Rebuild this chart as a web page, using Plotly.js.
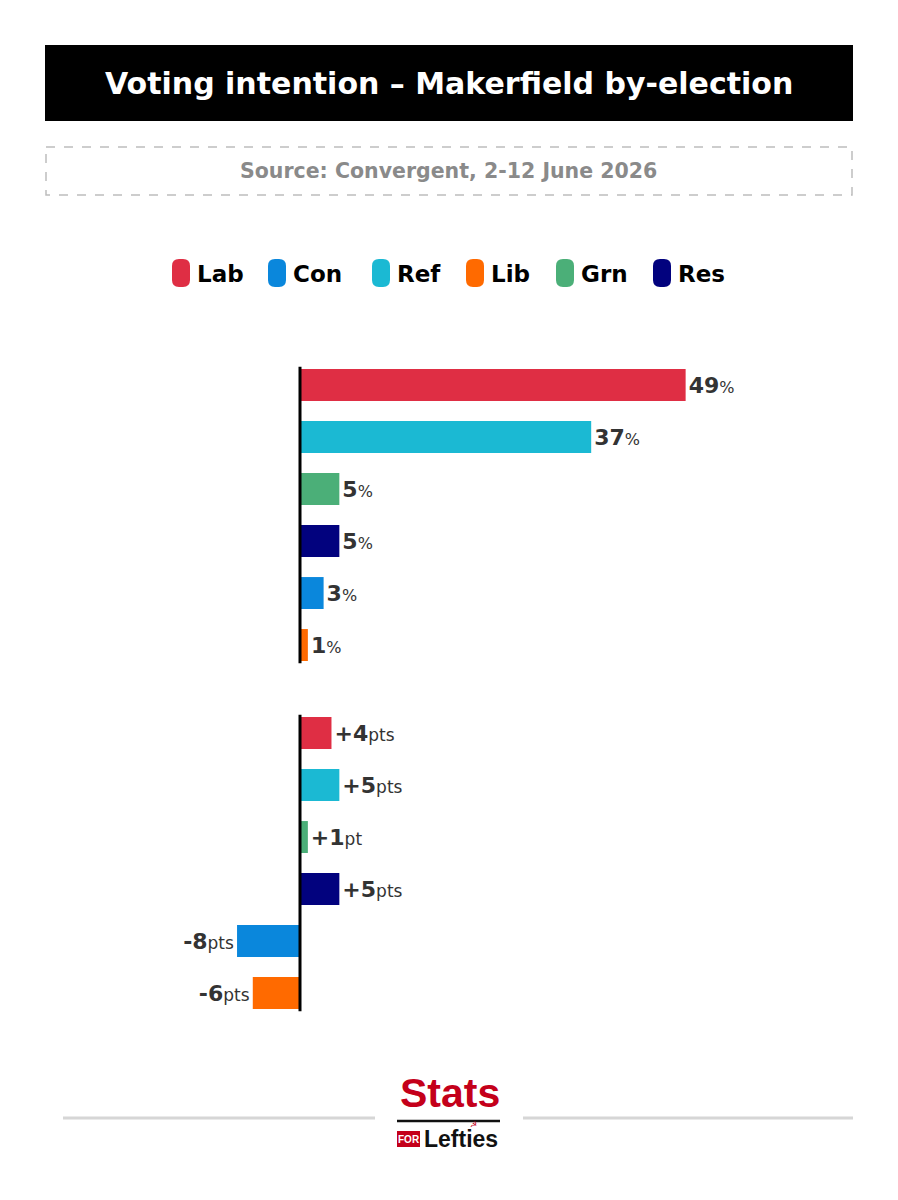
<!DOCTYPE html>
<html>
<head>
<meta charset="utf-8">
<script src="https://cdn.plot.ly/plotly-3.0.1.min.js"></script>
<style>html,body{margin:0;padding:0;background:#fff;}#chart{width:898px;height:1200px;}</style>
</head>
<body>
<div id="chart"></div>
<script>
// ---- data ----
const parties = ['Lab', 'Ref', 'Grn', 'Res', 'Con', 'Lib'];
const shares = [49, 37, 5, 5, 3, 1];
const changes = [4, 5, 1, 5, -8, -6];
const legendParties = ['Lab', 'Con', 'Ref', 'Lib', 'Grn', 'Res'];
const partyColors = {Lab: '#DF2E44', Con: '#0A87DC', Ref: '#1BB9D3', Lib: '#FF6A00', Grn: '#4BAF78', Res: '#02027E'};
const titleText = 'Voting intention – Makerfield by-election';
const sourceText = 'Source: Convergent, 2-12 June 2026';

// ---- helpers ----
const W = 898, H = 1200;
const FONT = 'DejaVu Sans, Verdana, sans-serif';
const LOGO = 'Liberation Sans, Arial, Helvetica, sans-serif';
const px = x => x / W;
const py = y => 1 - y / H;
function roundRect(x0, y0, x1, y1, r) {
  return 'M' + px(x0 + r) + ',' + py(y0) +
    ' L' + px(x1 - r) + ',' + py(y0) +
    ' Q' + px(x1) + ',' + py(y0) + ' ' + px(x1) + ',' + py(y0 + r) +
    ' L' + px(x1) + ',' + py(y1 - r) +
    ' Q' + px(x1) + ',' + py(y1) + ' ' + px(x1 - r) + ',' + py(y1) +
    ' L' + px(x0 + r) + ',' + py(y1) +
    ' Q' + px(x0) + ',' + py(y1) + ' ' + px(x0) + ',' + py(y1 - r) +
    ' L' + px(x0) + ',' + py(y0 + r) +
    ' Q' + px(x0) + ',' + py(y0) + ' ' + px(x0 + r) + ',' + py(y0) + ' Z';
}

const shareText = shares.map(v => '<b>' + v + '</b><span style="font-size:16px;font-weight:normal">%</span>');
const changeText = changes.map(v => {
  const sign = v > 0 ? '+' : '-';
  const unit = Math.abs(v) === 1 ? 'pt' : 'pts';
  return '<b>' + sign + Math.abs(v) + '</b><span style="font-size:17px;font-weight:normal">' + unit + '</span>';
});

const traces = [
  {
    type: 'bar', orientation: 'h', x: shares, y: parties,
    marker: {color: parties.map(p => partyColors[p])},
    text: shareText, textposition: 'outside', cliponaxis: false,
    textfont: {family: FONT, size: 22, color: '#333333'},
    hoverinfo: 'skip', xaxis: 'x', yaxis: 'y'
  },
  {
    type: 'bar', orientation: 'h', x: changes, y: parties,
    marker: {color: parties.map(p => partyColors[p])},
    text: changeText, textposition: 'outside', cliponaxis: false,
    textfont: {family: FONT, size: 22, color: '#333333'},
    hoverinfo: 'skip', xaxis: 'x2', yaxis: 'y2'
  }
];

const scale = 7.87; // px per point
const xr = [-300 / scale, (W - 300) / scale];

const shapes = [
  // title box
  {type: 'rect', xref: 'paper', yref: 'paper', x0: px(45), x1: px(853), y0: py(45), y1: py(121), fillcolor: '#000', line: {width: 0}, layer: 'below'},
  // source dashed box
  {type: 'rect', xref: 'paper', yref: 'paper', x0: px(46), x1: px(852), y0: py(147), y1: py(195), fillcolor: 'rgba(0,0,0,0)', line: {color: '#bdbdbd', width: 1.5, dash: 'dash'}},
  // axis lines
  {type: 'line', xref: 'x', yref: 'y domain', x0: 0, x1: 0, y0: 0.025, y1: 0.975, line: {color: '#000', width: 3}},
  {type: 'line', xref: 'x2', yref: 'y2 domain', x0: 0, x1: 0, y0: 0.025, y1: 0.975, line: {color: '#000', width: 3}},
  // footer grey lines
  {type: 'line', xref: 'paper', yref: 'paper', x0: px(63), x1: px(375), y0: py(1118), y1: py(1118), line: {color: '#d6d6d6', width: 3}},
  {type: 'line', xref: 'paper', yref: 'paper', x0: px(523), x1: px(853), y0: py(1118), y1: py(1118), line: {color: '#d6d6d6', width: 3}},
  // logo underline
  {type: 'line', xref: 'paper', yref: 'paper', x0: px(397), x1: px(500), y0: py(1121), y1: py(1121), line: {color: '#111', width: 2.5}},
  // FOR box
  {type: 'rect', xref: 'paper', yref: 'paper', x0: px(397), x1: px(420), y0: py(1131), y1: py(1147), fillcolor: '#C4001A', line: {width: 0}}
];

const annotations = [
  {xref: 'paper', yref: 'paper', x: px(449), y: py(83), text: '<b>' + titleText + '</b>', showarrow: false, xanchor: 'center', yanchor: 'middle', font: {family: FONT, size: 30, color: '#fff'}},
  {xref: 'paper', yref: 'paper', x: px(448), y: py(171), text: '<b>' + sourceText + '</b>', showarrow: false, xanchor: 'center', yanchor: 'middle', font: {family: FONT, size: 20.5, color: '#8a8a8a'}},
  // logo
  {xref: 'paper', yref: 'paper', x: px(450), y: py(1093), text: '<b>Stats</b>', showarrow: false, xanchor: 'center', yanchor: 'middle', font: {family: LOGO, size: 41, color: '#C4001A'}},
  {xref: 'paper', yref: 'paper', x: px(408.5), y: py(1139), text: '<b>FOR</b>', showarrow: false, xanchor: 'center', yanchor: 'middle', font: {family: LOGO, size: 10, color: '#fff'}},
  {xref: 'paper', yref: 'paper', x: px(422), y: py(1139), text: '<b>Lefties</b>', showarrow: false, xanchor: 'left', yanchor: 'middle', font: {family: LOGO, size: 23, color: '#111'}},
  {xref: 'paper', yref: 'paper', x: px(474), y: py(1124), text: '☭', showarrow: false, xanchor: 'center', yanchor: 'middle', font: {family: 'DejaVu Sans', size: 8, color: '#C4001A'}}
];

// legend built from parties
const legendPillX = [172, 268, 372, 466, 556, 653];
legendParties.forEach((p, i) => {
  const x0 = legendPillX[i];
  shapes.push({type: 'path', xref: 'paper', yref: 'paper', path: roundRect(x0, 259, x0 + 18, 287, 7), fillcolor: partyColors[p], line: {width: 0}});
  annotations.push({xref: 'paper', yref: 'paper', x: px(x0 + 23), y: py(274), text: '<b>' + p + '</b>', showarrow: false, xanchor: 'left', yanchor: 'middle', font: {family: FONT, size: 23, color: '#000'}});
});

const layout = {
  width: W, height: H,
  margin: {l: 0, r: 0, t: 0, b: 0, pad: 0},
  paper_bgcolor: '#fff', plot_bgcolor: '#fff',
  showlegend: false,
  bargap: 0.385,
  xaxis: {domain: [0, 1], range: xr, visible: false, fixedrange: true},
  yaxis: {domain: [0.4408, 0.7008], type: 'category', categoryorder: 'array', categoryarray: parties, autorange: 'reversed', visible: false, anchor: 'x'},
  xaxis2: {domain: [0, 1], range: xr, visible: false, anchor: 'y2'},
  yaxis2: {domain: [0.1508, 0.4108], type: 'category', categoryorder: 'array', categoryarray: parties, autorange: 'reversed', visible: false, anchor: 'x2'},
  shapes: shapes,
  annotations: annotations
};

Plotly.newPlot('chart', traces, layout, {staticPlot: true, displayModeBar: false});
</script>
</body>
</html>
